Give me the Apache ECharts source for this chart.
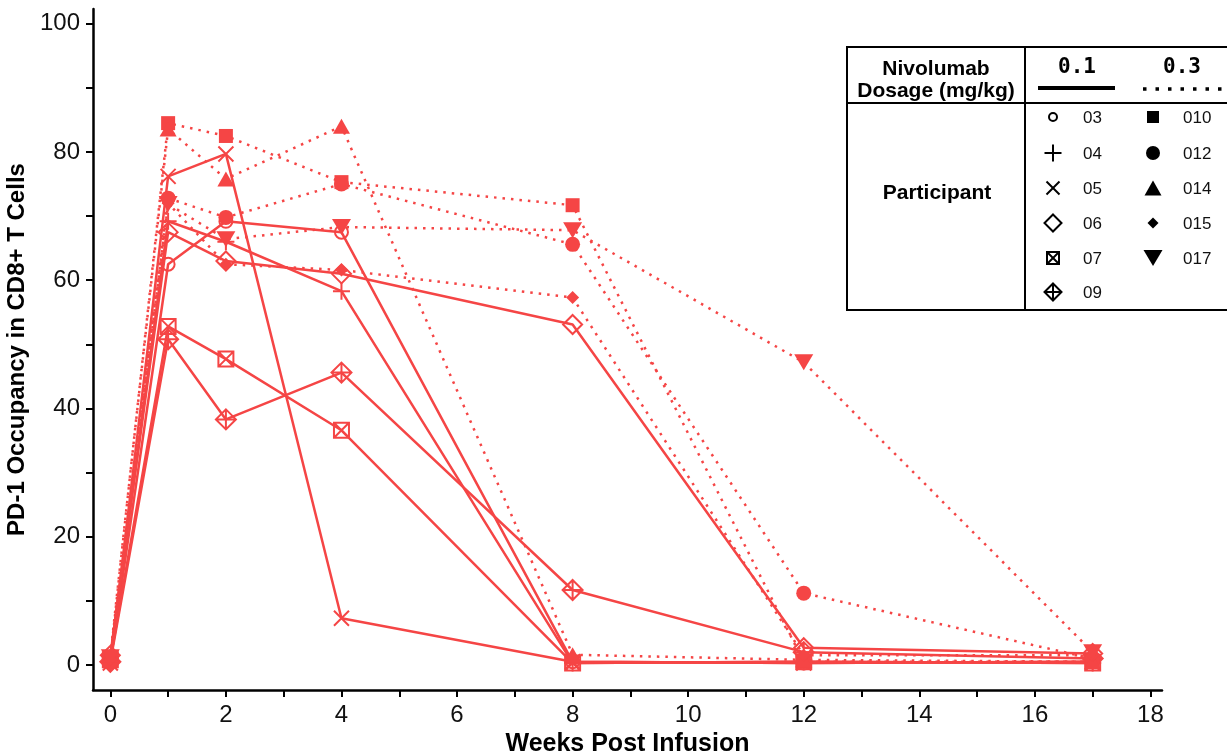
<!DOCTYPE html>
<html><head><meta charset="utf-8">
<script src="https://cdn.jsdelivr.net/npm/echarts@6/dist/echarts.min.js"></script>
<style>html,body{margin:0;padding:0;background:#fff}#c{width:1227px;height:755px}</style>
</head><body><div id="c"></div>
<script>
// ---- data ----
const weeks = [0, 1, 2, 4, 8, 12, 17];
// 0.1 mg/kg (solid)
const p03 = [0.5, 62.5, 69.2, 67.5, 0.5, 0.3, 0.5];
const p04 = [1.0, 69.2, 66.0, 58.3, 0.3, 0.5, 0.3];
const p05 = [0.3, 76.2, 79.7, 7.3, 0.5, 0.3, 0.5];
const p06 = [1.5, 67.5, 63.0, 61.0, 53.1, 2.7, 1.8];
const p07 = [0.8, 52.8, 47.7, 36.6, 0.3, 0.5, 0.3];
const p09 = [0.5, 50.8, 38.3, 45.6, 11.7, 2.0, 1.0];
// 0.3 mg/kg (dotted)
const p010 = [1.0, 84.5, 82.5, 75.3, 71.7, 0.5, 0.5];
const p012 = [0.5, 72.8, 69.8, 75.0, 65.6, 11.2, 1.0];
const p014 = [1.5, 83.6, 75.8, 84.0, 1.6, 0.8, 0.5];
const p015 = [0.8, 72.0, 62.5, 61.6, 57.3, 1.5, 1.5];
const p017 = [1.2, 71.9, 66.4, 68.3, 67.8, 47.2, 2.0];
const doseLabels = ['0.1', '0.3'];
const xLabelValues = [0, 2, 4, 6, 8, 10, 12, 14, 16, 18];
const xTickValues = [0, 1, 2, 3, 4, 5, 6, 7, 8, 9, 10, 11, 12, 13, 14, 15, 16, 17, 18];
const yLabelValues = [0, 20, 40, 60, 80, 100];
const yTickValues = [0, 10, 20, 30, 40, 50, 60, 70, 80, 90, 100];

// ---- styles ----
const RED = '#F54545';
const SYM = {
  plus: 'path://M5,0L5,10M0,5L10,5',
  cross: 'path://M0,0L10,10M10,0L0,10',
  sqx: 'path://M0,0L10,0L10,10L0,10ZM0,0L10,10M10,0L0,10',
  dplus: 'path://M5,0L10,5L5,10L0,5ZM5,0L5,10M0,5L10,5',
  down: 'path://M0,0L10,0L5,10Z',
  diamond: 'path://M5,0L10,5L5,10L0,5Z',
  rect: 'path://M0,0L10,0L10,10L0,10Z',
  tri: 'path://M5,0L10,10L0,10Z'
};
const participants = [
  {name: '03', dose: 0, vals: p03, kind: 'circle', size: 13, open: true, lg: 8},
  {name: '04', dose: 0, vals: p04, kind: 'plus', size: 17, open: true, lg: 17},
  {name: '05', dose: 0, vals: p05, kind: 'cross', size: 15, open: true, lg: 13},
  {name: '06', dose: 0, vals: p06, kind: 'diamond', size: 19, open: true, lg: 17},
  {name: '07', dose: 0, vals: p07, kind: 'sqx', size: 15, open: true, lg: 12},
  {name: '09', dose: 0, vals: p09, kind: 'dplus', size: 20, open: true, lg: 17},
  {name: '010', dose: 1, vals: p010, kind: 'rect', size: 14, open: false, lg: 12},
  {name: '012', dose: 1, vals: p012, kind: 'circle', size: 15, open: false, lg: 14},
  {name: '014', dose: 1, vals: p014, kind: 'tri', size: [17, 15], open: false, lg: [17, 15]},
  {name: '015', dose: 1, vals: p015, kind: 'diamond', size: 13, open: false, lg: 11},
  {name: '017', dose: 1, vals: p017, kind: 'down', size: [19, 16], open: false, lg: [19, 16]}
];

const series = participants.map(p => ({
  type: 'line',
  name: p.name,
  data: weeks.map((w, i) => [w, p.vals[i]]),
  symbol: p.kind === 'circle' ? 'circle' : SYM[p.kind],
  symbolSize: p.size,
  showAllSymbol: true,
  clip: false,
  lineStyle: {color: RED, width: 2.5, type: p.dose === 0 ? 'solid' : [2.5, 6], cap: 'butt'},
  itemStyle: {color: p.open ? 'rgba(255,255,255,0)' : RED, borderColor: RED, borderWidth: p.open ? 2 : 0},
  emphasis: {disabled: true},
  animation: false
}));

// ---- legend table (graphic) ----
const FONT = 'Liberation Sans, Arial, sans-serif';
const g = [];
const lineEl = (x1, y1, x2, y2, w, dash, color) => ({type: 'line', shape: {x1, y1, x2, y2}, style: {stroke: color || '#000', lineWidth: w || 2, lineDash: dash || null}, silent: true});
g.push(lineEl(847, 47, 1227, 47));
g.push(lineEl(847, 310, 1227, 310));
g.push(lineEl(847, 103, 1227, 103));
g.push(lineEl(847, 46, 847, 311));
g.push(lineEl(1025, 46, 1025, 311));
g.push({type: 'text', x: 936, y: 69, style: {text: 'Nivolumab', font: 'bold 21px ' + FONT, fill: '#000', align: 'center', verticalAlign: 'middle'}});
g.push({type: 'text', x: 936, y: 91, style: {text: 'Dosage (mg/kg)', font: 'bold 21px ' + FONT, fill: '#000', align: 'center', verticalAlign: 'middle'}});
g.push({type: 'text', x: 1077, y: 68, style: {text: doseLabels[0], font: 'bold 21px DejaVu Sans Mono, monospace', fill: '#000', align: 'center', verticalAlign: 'middle'}});
g.push({type: 'text', x: 1182, y: 68, style: {text: doseLabels[1], font: 'bold 21px DejaVu Sans Mono, monospace', fill: '#000', align: 'center', verticalAlign: 'middle'}});
g.push(lineEl(1038, 88, 1115, 88, 4));
g.push(lineEl(1143, 89, 1222, 89, 3.5, [3.5, 9]));
g.push({type: 'text', x: 937, y: 193, style: {text: 'Participant', font: 'bold 21px ' + FONT, fill: '#000', align: 'center', verticalAlign: 'middle'}});

function legendSymbol(kind, cx, cy, w, h, open) {
  const x0 = cx - w / 2, x1 = cx + w / 2, y0 = cy - h / 2, y1 = cy + h / 2;
  const st = open ? {fill: 'none', stroke: '#000', lineWidth: 2} : {fill: '#000'};
  const out = [];
  const seg = (a, b, c, d) => out.push(lineEl(a, b, c, d, 2));
  if (kind === 'circle') out.push({type: 'circle', shape: {cx, cy, r: w / 2}, style: st, silent: true});
  if (kind === 'rect' || kind === 'sqx') out.push({type: 'rect', shape: {x: x0, y: y0, width: w, height: h}, style: st, silent: true});
  if (kind === 'diamond' || kind === 'dplus') out.push({type: 'polygon', shape: {points: [[cx, y0], [x1, cy], [cx, y1], [x0, cy]]}, style: st, silent: true});
  if (kind === 'tri') out.push({type: 'polygon', shape: {points: [[cx, y0], [x1, y1], [x0, y1]]}, style: st, silent: true});
  if (kind === 'down') out.push({type: 'polygon', shape: {points: [[x0, y0], [x1, y0], [cx, y1]]}, style: st, silent: true});
  if (kind === 'plus' || kind === 'dplus') { seg(cx, y0, cx, y1); seg(x0, cy, x1, cy); }
  if (kind === 'cross' || kind === 'sqx') { seg(x0, y0, x1, y1); seg(x1, y0, x0, y1); }
  return out;
}
const rowY = [117, 153, 188, 223, 258, 292];
const colX = [[1053, 1083], [1153, 1183]];
[0, 1].forEach(d => {
  participants.filter(p => p.dose === d).forEach((p, i) => {
    const cy = rowY[i];
    const sz = Array.isArray(p.lg) ? p.lg : [p.lg, p.lg];
    legendSymbol(p.kind, colX[d][0], cy, sz[0], sz[1], p.open).forEach(e => g.push(e));
    g.push({type: 'text', x: colX[d][1], y: cy + 1, style: {text: p.name, font: '17px ' + FONT, fill: '#111', align: 'left', verticalAlign: 'middle'}});
  });
});

const tickStyle = {color: '#000', width: 2};
const option = {
  backgroundColor: '#fff',
  animation: false,
  grid: {left: 93, right: 65, top: 9, bottom: 65, outerBoundsMode: 'none', containLabel: false},
  xAxis: {
    type: 'value', min: -0.3, max: 18.2,
    axisLine: {show: true, onZero: false, lineStyle: {color: '#000', width: 2.5}},
    splitLine: {show: false},
    axisTick: {show: true, length: 7, lineStyle: tickStyle, customValues: xTickValues},
    axisLabel: {fontSize: 24, color: '#111', margin: 13, fontFamily: FONT, customValues: xLabelValues},
    name: 'Weeks Post Infusion', nameLocation: 'middle', nameGap: 40,
    nameTextStyle: {fontSize: 25, fontWeight: 'bold', color: '#000', fontFamily: FONT}
  },
  yAxis: {
    type: 'value', min: -3.9, max: 102.3,
    axisLine: {show: true, onZero: false, lineStyle: {color: '#000', width: 2.5}},
    splitLine: {show: false},
    axisTick: {show: true, length: 7, lineStyle: tickStyle, customValues: yTickValues},
    axisLabel: {fontSize: 24, color: '#111', margin: 13, fontFamily: FONT, customValues: yLabelValues},
    name: 'PD-1 Occupancy in CD8+ T Cells', nameLocation: 'middle', nameGap: 52,
    nameTextStyle: {fontSize: 24, fontWeight: 'bold', color: '#000', fontFamily: FONT}
  },
  graphic: g,
  series
};
const chart = echarts.init(document.getElementById('c'), null, {renderer: 'canvas'});
chart.setOption(option);
</script>
</body></html>
